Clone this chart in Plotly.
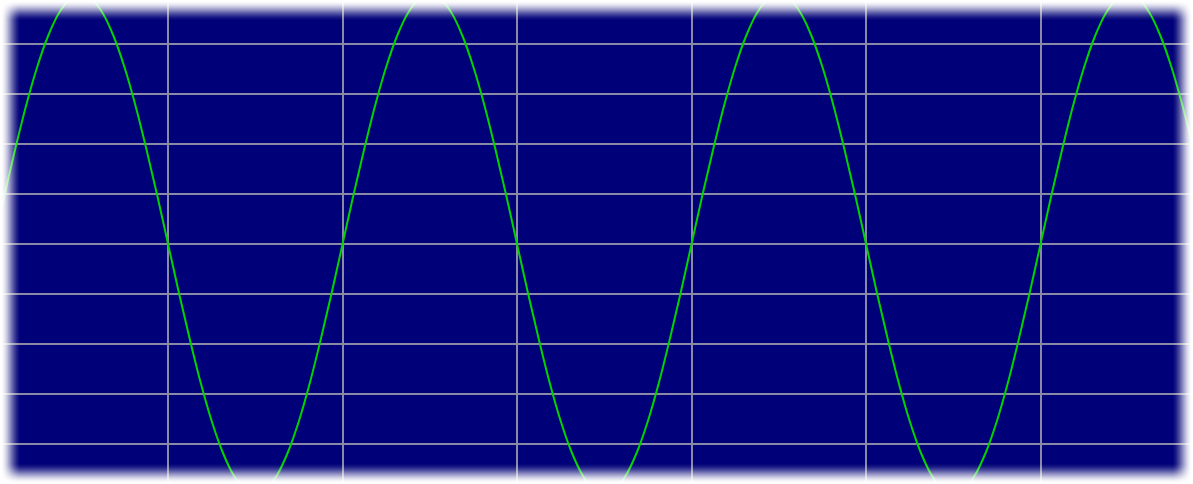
import plotly.graph_objects as go

# Time in grid divisions, signal in vertical divisions
t_div = [0, 0.0625, 0.125, 0.1875, 0.25, 0.3125, 0.375, 0.4375,
         0.5, 0.5625, 0.625, 0.6875, 0.75, 0.8125, 0.875, 0.9375,
         1, 1.0625, 1.125, 1.1875, 1.25, 1.3125, 1.375, 1.4375,
         1.5, 1.5625, 1.625, 1.6875, 1.75, 1.8125, 1.875, 1.9375,
         2, 2.0625, 2.125, 2.1875, 2.25, 2.3125, 2.375, 2.4375,
         2.5, 2.5625, 2.625, 2.6875, 2.75, 2.8125, 2.875, 2.9375,
         3, 3.0625, 3.125, 3.1875, 3.25, 3.3125, 3.375, 3.4375,
         3.5, 3.5625, 3.625, 3.6875, 3.75, 3.8125, 3.875, 3.9375,
         4, 4.0625, 4.125, 4.1875, 4.25, 4.3125, 4.375, 4.4375,
         4.5, 4.5625, 4.625, 4.6875, 4.75, 4.8125, 4.875, 4.9375,
         5, 5.0625, 5.125, 5.1875, 5.25, 5.3125, 5.375, 5.4375,
         5.5, 5.5625, 5.625, 5.6875, 5.75, 5.8125, 5.875, 5.9375,
         6, 6.0625, 6.125, 6.1875, 6.25, 6.3125, 6.375, 6.4375,
         6.5, 6.5625, 6.625, 6.6875, 6.75, 6.8125, 6.875, 6.9375, 7]
signal = [0, 0.98, 1.91, 2.78, 3.54, 4.16, 4.62, 4.90,
          5.0, 4.90, 4.62, 4.16, 3.54, 2.78, 1.91, 0.98,
          0, -0.98, -1.91, -2.78, -3.54, -4.16, -4.62, -4.90,
          -5.0, -4.90, -4.62, -4.16, -3.54, -2.78, -1.91, -0.98,
          0, 0.98, 1.91, 2.78, 3.54, 4.16, 4.62, 4.90,
          5.0, 4.90, 4.62, 4.16, 3.54, 2.78, 1.91, 0.98,
          0, -0.98, -1.91, -2.78, -3.54, -4.16, -4.62, -4.90,
          -5.0, -4.90, -4.62, -4.16, -3.54, -2.78, -1.91, -0.98,
          0, 0.98, 1.91, 2.78, 3.54, 4.16, 4.62, 4.90,
          5.0, 4.90, 4.62, 4.16, 3.54, 2.78, 1.91, 0.98,
          0, -0.98, -1.91, -2.78, -3.54, -4.16, -4.62, -4.90,
          -5.0, -4.90, -4.62, -4.16, -3.54, -2.78, -1.91, -0.98,
          0, 0.98, 1.91, 2.78, 3.54, 4.16, 4.62, 4.90,
          5.0, 4.90, 4.62, 4.16, 3.54, 2.78, 1.91, 0.98, 0]

W, H = 1193, 484
NAVY = "#000078"

fig = go.Figure()
fig.add_trace(go.Scatter(
    x=t_div, y=signal, mode="lines",
    line=dict(color="#00d400", width=2, shape="spline"),
    hoverinfo="skip", showlegend=False,
))

# soft white inner glow around the border
shapes = []
fade = 21
for d in range(fade):
    s = d / fade
    op = 1 - (3 * s * s - 2 * s * s * s)
    if op <= 0.01:
        continue
    common = dict(type="rect", xref="paper", yref="paper", layer="above",
                  fillcolor="white", line=dict(width=0), opacity=op)
    shapes.append(dict(common, x0=d / W, x1=(d + 1) / W, y0=0, y1=1))
    shapes.append(dict(common, x0=1 - (d + 1) / W, x1=1 - d / W, y0=0, y1=1))
    shapes.append(dict(common, x0=0, x1=1, y0=1 - (d + 1) / H, y1=1 - d / H))
    shapes.append(dict(common, x0=0, x1=1, y0=d / H, y1=(d + 1) / H))

grid = "#8a8aa6"
fig.update_layout(
    width=W, height=H,
    margin=dict(l=0, r=0, t=0, b=0),
    paper_bgcolor=NAVY, plot_bgcolor=NAVY,
    shapes=shapes,
    xaxis=dict(range=[0.037, 0.037 + W / 174.5], dtick=1, tick0=0,
               showgrid=True, gridcolor=grid, gridwidth=1.5,
               zeroline=False, showticklabels=False, ticks="", showline=False,
               fixedrange=True),
    yaxis=dict(range=[-4.8, 4.88], dtick=1, tick0=0,
               showgrid=True, gridcolor=grid, gridwidth=1.5,
               zeroline=False, showticklabels=False, ticks="", showline=False,
               fixedrange=True),
)

fig.write_html("out.html", config={"displayModeBar": False},
               post_script="document.body.style.margin='0';document.body.style.overflow='hidden';")
